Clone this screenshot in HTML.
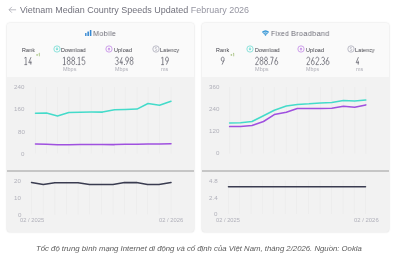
<!DOCTYPE html>
<html><head><meta charset="utf-8">
<style>
html,body{margin:0;padding:0;}
body{width:400px;height:260px;position:relative;overflow:hidden;background:#fff;font-family:"Liberation Sans",sans-serif;}
.card{position:absolute;top:23px;width:186.5px;height:209px;border-radius:3px;background:#f2f2f2;box-shadow:0 0 0 0.6px rgba(0,0,0,0.035),0 0 2.5px rgba(0,0,0,0.10);overflow:hidden;}
.card .hd{position:absolute;left:0;top:0;right:0;height:53.5px;background:#fafafa;}
.card .sep{position:absolute;left:0;right:0;top:147.3px;height:1.4px;background:#c6c6c6;}
.t{position:absolute;white-space:nowrap;line-height:1;transform-origin:0 0;will-change:transform;}
.ic{position:absolute;}
svg.ch{position:absolute;left:0;top:0;}
.title{color:#72727d;}
.title span{color:#9696a2;}
.ctitle{color:#6e6e78;}
.lbl{color:#393941;}
.num{color:#55555f;-webkit-text-stroke:0.35px #fafafa;}
.unit{color:#acacb5;}
.ax{color:#b0b0ba;}
.cap{color:#5a5a5a;}
.plus{color:#7aa84a;}
</style></head><body>
<svg class="ic" style="left:8px;top:6px" width="10" height="8" viewBox="0 0 10 8"><path d="M8.1 3.8H1.1M3.9 0.9L1 3.8 3.9 6.7" fill="none" stroke="#a4a4ae" stroke-width="0.75"/></svg>
<div class="card" style="left:7.4px;"><div class="hd"></div><div class="sep"></div></div>
<div class="card" style="left:202.2px;width:186.4px;"><div class="hd"></div><div class="sep"></div></div>
<svg class="ch" width="400" height="260" viewBox="0 0 400 260">
<line x1="35.50" y1="87" x2="35.50" y2="153.5" stroke="#ebebeb" stroke-width="0.75"/><line x1="46.50" y1="87" x2="46.50" y2="153.5" stroke="#ebebeb" stroke-width="0.75"/><line x1="57.50" y1="87" x2="57.50" y2="153.5" stroke="#ebebeb" stroke-width="0.75"/><line x1="68.80" y1="87" x2="68.80" y2="153.5" stroke="#ebebeb" stroke-width="0.75"/><line x1="80.00" y1="87" x2="80.00" y2="153.5" stroke="#ebebeb" stroke-width="0.75"/><line x1="91.30" y1="87" x2="91.30" y2="153.5" stroke="#ebebeb" stroke-width="0.75"/><line x1="102.50" y1="87" x2="102.50" y2="153.5" stroke="#ebebeb" stroke-width="0.75"/><line x1="114.50" y1="87" x2="114.50" y2="153.5" stroke="#ebebeb" stroke-width="0.75"/><line x1="125.30" y1="87" x2="125.30" y2="153.5" stroke="#ebebeb" stroke-width="0.75"/><line x1="137.00" y1="87" x2="137.00" y2="153.5" stroke="#ebebeb" stroke-width="0.75"/><line x1="148.00" y1="87" x2="148.00" y2="153.5" stroke="#ebebeb" stroke-width="0.75"/><line x1="159.50" y1="87" x2="159.50" y2="153.5" stroke="#ebebeb" stroke-width="0.75"/><line x1="171.00" y1="87" x2="171.00" y2="153.5" stroke="#ebebeb" stroke-width="0.75"/>
<line x1="31.50" y1="180.5" x2="31.50" y2="214.5" stroke="#ebebeb" stroke-width="0.75"/><line x1="43.30" y1="180.5" x2="43.30" y2="214.5" stroke="#ebebeb" stroke-width="0.75"/><line x1="54.80" y1="180.5" x2="54.80" y2="214.5" stroke="#ebebeb" stroke-width="0.75"/><line x1="66.50" y1="180.5" x2="66.50" y2="214.5" stroke="#ebebeb" stroke-width="0.75"/><line x1="78.00" y1="180.5" x2="78.00" y2="214.5" stroke="#ebebeb" stroke-width="0.75"/><line x1="89.50" y1="180.5" x2="89.50" y2="214.5" stroke="#ebebeb" stroke-width="0.75"/><line x1="101.50" y1="180.5" x2="101.50" y2="214.5" stroke="#ebebeb" stroke-width="0.75"/><line x1="113.00" y1="180.5" x2="113.00" y2="214.5" stroke="#ebebeb" stroke-width="0.75"/><line x1="124.50" y1="180.5" x2="124.50" y2="214.5" stroke="#ebebeb" stroke-width="0.75"/><line x1="136.50" y1="180.5" x2="136.50" y2="214.5" stroke="#ebebeb" stroke-width="0.75"/><line x1="147.50" y1="180.5" x2="147.50" y2="214.5" stroke="#ebebeb" stroke-width="0.75"/><line x1="159.00" y1="180.5" x2="159.00" y2="214.5" stroke="#ebebeb" stroke-width="0.75"/><line x1="171.00" y1="180.5" x2="171.00" y2="214.5" stroke="#ebebeb" stroke-width="0.75"/>
<line x1="229.60" y1="87" x2="229.60" y2="153.5" stroke="#ebebeb" stroke-width="0.75"/><line x1="240.60" y1="87" x2="240.60" y2="153.5" stroke="#ebebeb" stroke-width="0.75"/><line x1="252.00" y1="87" x2="252.00" y2="153.5" stroke="#ebebeb" stroke-width="0.75"/><line x1="263.50" y1="87" x2="263.50" y2="153.5" stroke="#ebebeb" stroke-width="0.75"/><line x1="274.30" y1="87" x2="274.30" y2="153.5" stroke="#ebebeb" stroke-width="0.75"/><line x1="286.30" y1="87" x2="286.30" y2="153.5" stroke="#ebebeb" stroke-width="0.75"/><line x1="297.30" y1="87" x2="297.30" y2="153.5" stroke="#ebebeb" stroke-width="0.75"/><line x1="309.00" y1="87" x2="309.00" y2="153.5" stroke="#ebebeb" stroke-width="0.75"/><line x1="320.50" y1="87" x2="320.50" y2="153.5" stroke="#ebebeb" stroke-width="0.75"/><line x1="331.80" y1="87" x2="331.80" y2="153.5" stroke="#ebebeb" stroke-width="0.75"/><line x1="343.40" y1="87" x2="343.40" y2="153.5" stroke="#ebebeb" stroke-width="0.75"/><line x1="354.70" y1="87" x2="354.70" y2="153.5" stroke="#ebebeb" stroke-width="0.75"/><line x1="365.80" y1="87" x2="365.80" y2="153.5" stroke="#ebebeb" stroke-width="0.75"/>
<line x1="228.50" y1="180.5" x2="228.50" y2="214" stroke="#ebebeb" stroke-width="0.75"/><line x1="239.40" y1="180.5" x2="239.40" y2="214" stroke="#ebebeb" stroke-width="0.75"/><line x1="251.00" y1="180.5" x2="251.00" y2="214" stroke="#ebebeb" stroke-width="0.75"/><line x1="262.40" y1="180.5" x2="262.40" y2="214" stroke="#ebebeb" stroke-width="0.75"/><line x1="273.20" y1="180.5" x2="273.20" y2="214" stroke="#ebebeb" stroke-width="0.75"/><line x1="285.20" y1="180.5" x2="285.20" y2="214" stroke="#ebebeb" stroke-width="0.75"/><line x1="296.50" y1="180.5" x2="296.50" y2="214" stroke="#ebebeb" stroke-width="0.75"/><line x1="308.50" y1="180.5" x2="308.50" y2="214" stroke="#ebebeb" stroke-width="0.75"/><line x1="320.00" y1="180.5" x2="320.00" y2="214" stroke="#ebebeb" stroke-width="0.75"/><line x1="331.50" y1="180.5" x2="331.50" y2="214" stroke="#ebebeb" stroke-width="0.75"/><line x1="343.00" y1="180.5" x2="343.00" y2="214" stroke="#ebebeb" stroke-width="0.75"/><line x1="354.30" y1="180.5" x2="354.30" y2="214" stroke="#ebebeb" stroke-width="0.75"/><line x1="365.50" y1="180.5" x2="365.50" y2="214" stroke="#ebebeb" stroke-width="0.75"/>
<polyline points="35.50,113.25 46.50,113.00 57.50,115.90 68.80,112.50 80.00,112.30 91.30,112.10 102.50,112.10 114.50,109.75 125.30,109.40 137.00,109.10 148.00,103.50 159.50,105.25 171.00,101.25" fill="none" stroke="#44dbca" stroke-width="1.55" stroke-linejoin="round" stroke-linecap="round"/>
<polyline points="35.50,144.10 46.50,144.30 57.50,144.70 68.80,144.70 80.00,144.60 91.30,144.50 102.50,144.60 114.50,144.60 125.30,144.30 137.00,144.20 148.00,144.10 159.50,144.00 171.00,143.80" fill="none" stroke="#9f50df" stroke-width="1.55" stroke-linejoin="round" stroke-linecap="round"/>
<polyline points="31.50,182.50 43.30,184.50 54.80,182.70 66.50,182.70 78.00,182.70 89.50,184.60 101.50,184.40 113.00,184.40 124.50,182.60 136.50,182.60 147.50,184.40 159.00,184.40 171.00,182.60" fill="none" stroke="#3a3c50" stroke-width="1.55" stroke-linejoin="round" stroke-linecap="round"/>
<polyline points="229.60,123.00 240.60,122.70 252.00,121.50 263.50,115.80 274.30,110.30 286.30,106.10 297.30,104.40 309.00,103.80 320.50,102.90 331.80,102.50 343.40,100.60 354.70,101.10 365.80,100.00" fill="none" stroke="#44dbca" stroke-width="1.55" stroke-linejoin="round" stroke-linecap="round"/>
<polyline points="229.60,126.60 240.60,126.40 252.00,125.50 263.50,121.50 274.30,114.60 286.30,112.20 297.30,108.50 309.00,108.50 320.50,108.50 331.80,108.30 343.40,106.20 354.70,107.30 365.80,104.90" fill="none" stroke="#9f50df" stroke-width="1.55" stroke-linejoin="round" stroke-linecap="round"/>
<polyline points="228.50,186.75 239.40,186.75 251.00,186.75 262.40,186.75 273.20,186.75 285.20,186.75 296.50,186.75 308.50,186.75 320.00,186.75 331.50,186.75 343.00,186.75 354.30,186.75 365.50,186.75" fill="none" stroke="#3a3c50" stroke-width="1.55" stroke-linejoin="round" stroke-linecap="round"/>
</svg>
<div class="t title" style="left:19.86px;top:5.96px;font-size:8.73px;transform:scaleX(1.0306);">Vietnam Median Country Speeds Updated <span>February 2026</span></div>
<svg class="ic" style="left:85px;top:30px" width="7" height="6" viewBox="0 0 7 6"><rect x="0.1" y="2.9" width="1.4" height="3.1" rx="0.3" fill="#3588d2"/><rect x="2.4" y="1.5" width="1.55" height="4.5" rx="0.3" fill="#3588d2"/><rect x="4.85" y="0" width="1.55" height="6" rx="0.3" fill="#3588d2"/></svg>
<div class="t ctitle" style="left:93.00px;top:29.60px;font-size:7.85px;transform:scaleX(0.9205);letter-spacing:0.35px;">Mobile</div>
<svg class="ic" style="left:262px;top:30.3px" width="7" height="6" viewBox="0 0 7 6"><path d="M3.5,5.9 L-0.11,1.89 A5.4 5.4 0 0 1 7.11,1.89 Z" fill="#3596d6"/><path d="M0.25,4.03 A3.75 3.75 0 0 1 6.75,4.03" fill="none" stroke="#fafafa" stroke-width="0.62"/><path d="M1.64,4.83 A2.15 2.15 0 0 1 5.36,4.83" fill="none" stroke="#fafafa" stroke-width="0.62"/></svg>
<div class="t ctitle" style="left:270.59px;top:29.60px;font-size:7.85px;transform:scaleX(0.8656);letter-spacing:0.35px;">Fixed</div>
<div class="t ctitle" style="left:290.60px;top:29.60px;font-size:7.85px;transform:scaleX(0.9304);letter-spacing:0.35px;">Broadband</div>
<div class="t lbl" style="left:21.57px;top:47.59px;font-size:5.38px;transform:scaleX(0.9629);letter-spacing:0.2px;">Rank</div>
<svg class="ic" style="left:52.55px;top:45.45px" width="8" height="8" viewBox="0 0 8 8"><circle cx="4" cy="4" r="3.15" fill="none" stroke="#45d3c8" stroke-width="0.7" opacity="0.85"/><path d="M3.45 2.55h1.1v1.3h0.9L4 5.45 2.55 3.85h0.9z" fill="#45d3c8" opacity="0.8"/></svg>
<div class="t lbl" style="left:61.37px;top:47.59px;font-size:5.38px;transform:scaleX(0.9774);letter-spacing:0.2px;">Download</div>
<div class="t unit" style="left:62.55px;top:67.34px;font-size:5.09px;transform:scaleX(1.0803);">Mbps</div>
<svg class="ic" style="left:104.55px;top:45.45px" width="8" height="8" viewBox="0 0 8 8"><circle cx="4" cy="4" r="3.15" fill="none" stroke="#b266e0" stroke-width="0.7" opacity="0.85"/><path d="M3.45 5.45h1.1v-1.3h0.9L4 2.55 2.55 4.15h0.9z" fill="#b266e0" opacity="0.8"/></svg>
<div class="t lbl" style="left:113.59px;top:47.59px;font-size:5.38px;transform:scaleX(0.9888);letter-spacing:0.2px;">Upload</div>
<div class="t unit" style="left:114.75px;top:67.34px;font-size:5.09px;transform:scaleX(1.0634);">Mbps</div>
<svg class="ic" style="left:151.60px;top:45.45px" width="8" height="8" viewBox="0 0 8 8"><circle cx="4" cy="4" r="3.2" fill="none" stroke="#a2a2b2" stroke-width="0.7"/><path d="M4.9 2.9C4.6 2.5 4.2 2.4 3.9 2.4 3.4 2.4 3.05 2.7 3.05 3.1 3.05 3.6 3.5 3.8 4 3.95 4.5 4.1 4.95 4.3 4.95 4.85 4.95 5.3 4.5 5.6 4 5.6 3.6 5.6 3.2 5.45 3 5.1" fill="none" stroke="#a2a2b2" stroke-width="0.55"/></svg>
<div class="t lbl" style="left:160.28px;top:47.59px;font-size:5.38px;transform:scaleX(0.9545);letter-spacing:0.2px;">Latency</div>
<div class="t unit" style="left:160.83px;top:67.46px;font-size:5.31px;transform:scaleX(1.0262);">ms</div>
<div class="t lbl" style="left:216.16px;top:47.59px;font-size:5.38px;transform:scaleX(0.9825);letter-spacing:0.2px;">Rank</div>
<svg class="ic" style="left:245.60px;top:45.45px" width="8" height="8" viewBox="0 0 8 8"><circle cx="4" cy="4" r="3.15" fill="none" stroke="#45d3c8" stroke-width="0.7" opacity="0.85"/><path d="M3.45 2.55h1.1v1.3h0.9L4 5.45 2.55 3.85h0.9z" fill="#45d3c8" opacity="0.8"/></svg>
<div class="t lbl" style="left:254.87px;top:47.59px;font-size:5.38px;transform:scaleX(0.9733);letter-spacing:0.2px;">Download</div>
<div class="t unit" style="left:255.34px;top:67.34px;font-size:5.09px;transform:scaleX(1.0971);">Mbps</div>
<svg class="ic" style="left:296.80px;top:45.45px" width="8" height="8" viewBox="0 0 8 8"><circle cx="4" cy="4" r="3.15" fill="none" stroke="#b266e0" stroke-width="0.7" opacity="0.85"/><path d="M3.45 5.45h1.1v-1.3h0.9L4 2.55 2.55 4.15h0.9z" fill="#b266e0" opacity="0.8"/></svg>
<div class="t lbl" style="left:305.89px;top:47.59px;font-size:5.38px;transform:scaleX(0.9772);letter-spacing:0.2px;">Upload</div>
<div class="t unit" style="left:306.36px;top:67.34px;font-size:5.09px;transform:scaleX(1.0549);">Mbps</div>
<svg class="ic" style="left:346.60px;top:45.45px" width="8" height="8" viewBox="0 0 8 8"><circle cx="4" cy="4" r="3.2" fill="none" stroke="#a2a2b2" stroke-width="0.7"/><path d="M4.9 2.9C4.6 2.5 4.2 2.4 3.9 2.4 3.4 2.4 3.05 2.7 3.05 3.1 3.05 3.6 3.5 3.8 4 3.95 4.5 4.1 4.95 4.3 4.95 4.85 4.95 5.3 4.5 5.6 4 5.6 3.6 5.6 3.2 5.45 3 5.1" fill="none" stroke="#a2a2b2" stroke-width="0.55"/></svg>
<div class="t lbl" style="left:355.17px;top:47.59px;font-size:5.38px;transform:scaleX(0.9698);letter-spacing:0.2px;">Latency</div>
<div class="t unit" style="left:356.13px;top:67.46px;font-size:5.31px;transform:scaleX(1.0262);">ms</div>
<div class="t ax" style="left:14.48px;top:84.66px;font-size:5.40px;transform:scaleX(1.1500);">240</div>
<div class="t ax" style="left:14.48px;top:106.76px;font-size:5.40px;transform:scaleX(1.1500);">160</div>
<div class="t ax" style="left:17.94px;top:129.51px;font-size:5.40px;transform:scaleX(1.1500);">80</div>
<div class="t ax" style="left:21.39px;top:151.86px;font-size:5.40px;transform:scaleX(1.1500);">0</div>
<div class="t ax" style="left:14.44px;top:179.06px;font-size:5.40px;transform:scaleX(1.1500);">20</div>
<div class="t ax" style="left:14.44px;top:195.81px;font-size:5.40px;transform:scaleX(1.1500);">10</div>
<div class="t ax" style="left:17.89px;top:212.71px;font-size:5.40px;transform:scaleX(1.1500);">0</div>
<div class="t ax" style="left:209.08px;top:84.86px;font-size:5.40px;transform:scaleX(1.1500);">360</div>
<div class="t ax" style="left:209.08px;top:106.96px;font-size:5.40px;transform:scaleX(1.1500);">240</div>
<div class="t ax" style="left:209.08px;top:129.26px;font-size:5.40px;transform:scaleX(1.1500);">120</div>
<div class="t ax" style="left:215.99px;top:151.26px;font-size:5.40px;transform:scaleX(1.1500);">0</div>
<div class="t ax" style="left:209.13px;top:179.26px;font-size:5.40px;transform:scaleX(1.1500);">4.8</div>
<div class="t ax" style="left:209.04px;top:195.76px;font-size:5.40px;transform:scaleX(1.1500);">2.4</div>
<div class="t ax" style="left:214.29px;top:212.26px;font-size:5.40px;transform:scaleX(1.1500);">0</div>
<div class="t ax" style="left:19.87px;top:218.22px;font-size:5.59px;transform:scaleX(1.0363);">02 / 2025</div>
<div class="t ax" style="left:159.02px;top:218.22px;font-size:5.59px;transform:scaleX(1.0392);">02 / 2026</div>
<div class="t ax" style="left:216.27px;top:218.22px;font-size:5.59px;transform:scaleX(1.0276);">02 / 2025</div>
<div class="t ax" style="left:353.51px;top:218.22px;font-size:5.59px;transform:scaleX(1.0610);">02 / 2026</div>
<div class="t cap" style="left:35.90px;top:244.72px;font-size:7.71px;font-style:italic;transform:scaleX(1.0069);">Tốc độ trung bình mạng Internet di động và cố định của Việt Nam, tháng 2/2026. Nguồn: Ookla</div>
<svg class="ch" width="400" height="260" viewBox="0 0 400 260"><g fill="none" stroke="#5a5a66" stroke-width="0.72" stroke-linecap="butt" stroke-linejoin="round"><path d="M24.40,58.13 L25.99,57.16 V64.64 M24.40,64.64 H27.14"/><path d="M31.01,57.16 L28.76,62.70 H31.64 M30.83,60.75 V64.64"/></g><g fill="none" stroke="#86ad52" stroke-width="0.55"><path d="M36.30,54.95 H37.90 M37.10,54.15 V55.75"/><path d="M38.70,53.75 L39.40,53.2 V56.3" stroke-width="0.6"/></g><g fill="none" stroke="#5a5a66" stroke-width="0.72" stroke-linecap="butt" stroke-linejoin="round"><path d="M62.90,58.13 L64.49,57.16 V64.64 M62.90,64.64 H65.64"/><path d="M68.70,60.53 C67.61,60.53 67.38,59.78 67.38,58.81 C67.38,57.68 67.69,57.16 68.70,57.16 C69.71,57.16 70.02,57.68 70.02,58.81 C70.02,59.78 69.79,60.53 68.70,60.53 C67.55,60.53 67.26,61.35 67.26,62.62 C67.26,63.97 67.61,64.64 68.70,64.64 C69.79,64.64 70.14,63.97 70.14,62.62 C70.14,61.35 69.85,60.53 68.70,60.53 Z"/><path d="M73.20,60.53 C72.11,60.53 71.88,59.78 71.88,58.81 C71.88,57.68 72.19,57.16 73.20,57.16 C74.21,57.16 74.52,57.68 74.52,58.81 C74.52,59.78 74.29,60.53 73.20,60.53 C72.05,60.53 71.76,61.35 71.76,62.62 C71.76,63.97 72.11,64.64 73.20,64.64 C74.29,64.64 74.64,63.97 74.64,62.62 C74.64,61.35 74.35,60.53 73.20,60.53 Z"/><path d="M77.65,58.13 L79.24,57.16 V64.64 M77.65,64.64 H80.39"/><path d="M84.75,57.16 H82.21 L82.07,60.60 C82.44,60.15 82.87,60.00 83.45,60.00 C84.46,60.00 84.89,60.90 84.89,62.40 C84.89,63.89 84.46,64.64 83.45,64.64 C82.59,64.64 82.13,64.27 82.01,63.52"/></g><rect x="75.85" y="64.10" width="0.9" height="0.9" fill="#5a5a66"/><g fill="none" stroke="#5a5a66" stroke-width="0.72" stroke-linecap="butt" stroke-linejoin="round"><path d="M115.36,58.28 C115.50,57.46 115.99,57.16 116.80,57.16 C117.81,57.16 118.24,57.91 118.24,59.03 C118.24,60.08 117.81,60.68 116.66,60.68 C117.81,60.68 118.24,61.42 118.24,62.70 C118.24,63.89 117.81,64.64 116.80,64.64 C115.94,64.64 115.48,64.27 115.36,63.44"/><path d="M122.11,57.16 L119.86,62.70 H122.74 M121.93,60.75 V64.64"/><path d="M126.42,64.64 L128.26,60.53 C128.43,60.00 128.49,59.63 128.49,59.10 C128.49,57.83 128.06,57.16 127.05,57.16 C126.04,57.16 125.61,57.83 125.61,59.10 C125.61,60.53 126.04,61.20 127.05,61.20 C127.63,61.20 128.06,60.90 128.26,60.53"/><path d="M131.55,60.53 C130.46,60.53 130.23,59.78 130.23,58.81 C130.23,57.68 130.54,57.16 131.55,57.16 C132.56,57.16 132.87,57.68 132.87,58.81 C132.87,59.78 132.64,60.53 131.55,60.53 C130.40,60.53 130.11,61.35 130.11,62.62 C130.11,63.97 130.46,64.64 131.55,64.64 C132.64,64.64 132.99,63.97 132.99,62.62 C132.99,61.35 132.70,60.53 131.55,60.53 Z"/></g><rect x="123.95" y="64.10" width="0.9" height="0.9" fill="#5a5a66"/><g fill="none" stroke="#5a5a66" stroke-width="0.72" stroke-linecap="butt" stroke-linejoin="round"><path d="M161.20,58.13 L162.79,57.16 V64.64 M161.20,64.64 H163.94"/><path d="M166.37,64.64 L168.21,60.53 C168.38,60.00 168.44,59.63 168.44,59.10 C168.44,57.83 168.01,57.16 167.00,57.16 C165.99,57.16 165.56,57.83 165.56,59.10 C165.56,60.53 165.99,61.20 167.00,61.20 C167.58,61.20 168.01,60.90 168.21,60.53"/></g><g fill="none" stroke="#5a5a66" stroke-width="0.72" stroke-linecap="butt" stroke-linejoin="round"><path d="M222.07,64.64 L223.91,60.53 C224.08,60.00 224.14,59.63 224.14,59.10 C224.14,57.83 223.71,57.16 222.70,57.16 C221.69,57.16 221.26,57.83 221.26,59.10 C221.26,60.53 221.69,61.20 222.70,61.20 C223.28,61.20 223.71,60.90 223.91,60.53"/></g><g fill="none" stroke="#86ad52" stroke-width="0.55"><path d="M230.60,54.95 H232.20 M231.40,54.15 V55.75"/><path d="M233.00,53.75 L233.70,53.2 V56.3" stroke-width="0.6"/></g><g fill="none" stroke="#5a5a66" stroke-width="0.72" stroke-linecap="butt" stroke-linejoin="round"><path d="M255.56,58.66 C255.56,57.61 256.14,57.16 257.00,57.16 C257.92,57.16 258.44,57.76 258.44,59.03 C258.44,60.30 257.86,60.90 256.86,62.25 L255.56,64.64 H258.44"/><path d="M261.50,60.53 C260.41,60.53 260.18,59.78 260.18,58.81 C260.18,57.68 260.49,57.16 261.50,57.16 C262.51,57.16 262.82,57.68 262.82,58.81 C262.82,59.78 262.59,60.53 261.50,60.53 C260.35,60.53 260.06,61.35 260.06,62.62 C260.06,63.97 260.41,64.64 261.50,64.64 C262.59,64.64 262.94,63.97 262.94,62.62 C262.94,61.35 262.65,60.53 261.50,60.53 Z"/><path d="M266.00,60.53 C264.91,60.53 264.68,59.78 264.68,58.81 C264.68,57.68 264.99,57.16 266.00,57.16 C267.01,57.16 267.32,57.68 267.32,58.81 C267.32,59.78 267.09,60.53 266.00,60.53 C264.85,60.53 264.56,61.35 264.56,62.62 C264.56,63.97 264.91,64.64 266.00,64.64 C267.09,64.64 267.44,63.97 267.44,62.62 C267.44,61.35 267.15,60.53 266.00,60.53 Z"/><path d="M270.31,57.16 H273.19 L271.17,64.64"/><path d="M276.88,57.16 L275.04,61.27 C274.87,61.80 274.81,62.17 274.81,62.70 C274.81,63.97 275.24,64.64 276.25,64.64 C277.26,64.64 277.69,63.97 277.69,62.70 C277.69,61.27 277.26,60.60 276.25,60.60 C275.67,60.60 275.24,60.90 275.04,61.27"/></g><rect x="268.65" y="64.10" width="0.9" height="0.9" fill="#5a5a66"/><g fill="none" stroke="#5a5a66" stroke-width="0.72" stroke-linecap="butt" stroke-linejoin="round"><path d="M306.86,58.66 C306.86,57.61 307.44,57.16 308.30,57.16 C309.22,57.16 309.74,57.76 309.74,59.03 C309.74,60.30 309.16,60.90 308.16,62.25 L306.86,64.64 H309.74"/><path d="M313.43,57.16 L311.59,61.27 C311.42,61.80 311.36,62.17 311.36,62.70 C311.36,63.97 311.79,64.64 312.80,64.64 C313.81,64.64 314.24,63.97 314.24,62.70 C314.24,61.27 313.81,60.60 312.80,60.60 C312.22,60.60 311.79,60.90 311.59,61.27"/><path d="M315.86,58.66 C315.86,57.61 316.44,57.16 317.30,57.16 C318.22,57.16 318.74,57.76 318.74,59.03 C318.74,60.30 318.16,60.90 317.16,62.25 L315.86,64.64 H318.74"/><path d="M321.61,58.28 C321.75,57.46 322.24,57.16 323.05,57.16 C324.06,57.16 324.49,57.91 324.49,59.03 C324.49,60.08 324.06,60.68 322.91,60.68 C324.06,60.68 324.49,61.42 324.49,62.70 C324.49,63.89 324.06,64.64 323.05,64.64 C322.19,64.64 321.73,64.27 321.61,63.44"/><path d="M328.18,57.16 L326.34,61.27 C326.17,61.80 326.11,62.17 326.11,62.70 C326.11,63.97 326.54,64.64 327.55,64.64 C328.56,64.64 328.99,63.97 328.99,62.70 C328.99,61.27 328.56,60.60 327.55,60.60 C326.97,60.60 326.54,60.90 326.34,61.27"/></g><rect x="319.95" y="64.10" width="0.9" height="0.9" fill="#5a5a66"/><g fill="none" stroke="#5a5a66" stroke-width="0.72" stroke-linecap="butt" stroke-linejoin="round"><path d="M358.41,57.16 L356.16,62.70 H359.04 M358.23,60.75 V64.64"/></g></svg>
</body></html>
